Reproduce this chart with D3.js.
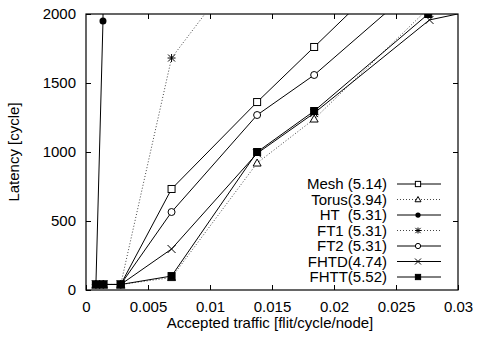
<!DOCTYPE html>
<html>
<head>
<meta charset="utf-8">
<script src="https://cdn.jsdelivr.net/npm/d3@7"></script>
<style>
  body { margin: 0; background: #fff; }
  text { font-family: "Liberation Sans", Arial, sans-serif; font-size: 15px; fill: #000; }
  .legend text { white-space: pre; }
</style>
</head>
<body>
<div id="chart"></div>
<script>
var width = 477;
var height = 339;
var margin = {top: 14, right: 19, bottom: 49, left: 86};

// accepted traffic values
var traffic = [0.0008, 0.0014, 0.0028, 0.0069, 0.0138, 0.0184, 0.0276];

// latency values per series
var meshY  = [40, 40, 40, 732, 1362, 1761, 2560];
var torusY = [40, 40, 40, 90, 920, 1239, 2040];
var htX    = [0.0008, 0.00137, 0.0014];
var htY    = [40, 1950, 2600];
var ft1X   = [0.0008, 0.0014, 0.0028, 0.0069, 0.0138];
var ft1Y   = [40, 40, 40, 1681, 2500];
var ft2Y   = [40, 40, 40, 565, 1268, 1558, 2275];
var fhtdX  = [0.0008, 0.0014, 0.0028, 0.0069, 0.0138, 0.0184, 0.0277, 0.0305];
var fhtdY  = [40, 40, 40, 297, 990, 1282, 1957, 2010];
var fhttY  = [40, 40, 40, 101, 1000, 1297, 2000];

var yTicks = [0, 500, 1000, 1500, 2000];
var xTicks = [0, 0.005, 0.01, 0.015, 0.02, 0.025, 0.03];

function zip(xs, ys) { return xs.map(function(x, i) { return [x, ys[i]]; }); }

var series = [
  {label: "Mesh (5.14)",  pts: zip(traffic, meshY),  marker: "square",  dotted: false},
  {label: "Torus(3.94)",  pts: zip(traffic, torusY), marker: "triangle", dotted: true},
  {label: "HT  (5.31)",   pts: zip(htX, htY),        marker: "dot",     dotted: false},
  {label: "FT1 (5.31)",   pts: zip(ft1X, ft1Y),      marker: "star",    dotted: true},
  {label: "FT2 (5.31)",   pts: zip(traffic, ft2Y),   marker: "circle",  dotted: false},
  {label: "FHTD(4.74)",   pts: zip(fhtdX, fhtdY),    marker: "cross",   dotted: false},
  {label: "FHTT(5.52)",   pts: zip(traffic, fhttY),  marker: "fsquare", dotted: false}
];

var w = width - margin.left - margin.right;
var h = height - margin.top - margin.bottom;

var svg = d3.select("#chart").append("svg")
    .attr("width", width)
    .attr("height", height);

var g = svg.append("g")
    .attr("transform", "translate(" + margin.left + "," + margin.top + ")");

var x = d3.scaleLinear().domain([0, 0.03]).range([0, w]);
var y = d3.scaleLinear().domain([0, 2000]).range([h, 0]);

g.append("clipPath").attr("id", "plotclip")
  .append("rect").attr("x", 0).attr("y", 0).attr("width", w).attr("height", h);

// axes with inward ticks, mirrored on top and right
var fmt = function(d) { return String(+d.toFixed(4)); };
g.append("g").attr("transform", "translate(0," + h + ")")
    .call(d3.axisBottom(x).tickValues(xTicks).tickSize(-5).tickPadding(11).tickFormat(fmt));
g.append("g")
    .call(d3.axisLeft(y).tickValues(yTicks).tickSize(-5).tickPadding(10).tickFormat(d3.format("d")));
g.append("g").call(d3.axisTop(x).tickValues(xTicks.slice(1, -1)).tickSize(-5).tickFormat(""));
g.append("g").attr("transform", "translate(" + w + ",0)")
  .call(d3.axisRight(y).tickValues(yTicks.slice(1, -1)).tickSize(-5).tickFormat(""));

g.selectAll(".domain").remove();
g.selectAll(".tick line").attr("stroke", "#000");
g.selectAll(".tick text").style("font-size", "15px").attr("fill", "#000");

g.append("rect")
    .attr("width", w).attr("height", h)
    .attr("fill", "none").attr("stroke", "#000").attr("stroke-width", 1.2);

// axis labels
svg.append("text")
    .attr("x", margin.left + w / 2 - 2)
    .attr("y", 328)
    .attr("text-anchor", "middle")
    .text("Accepted traffic [flit/cycle/node]");
svg.append("text")
    .attr("transform", "translate(19," + (margin.top + h / 2) + ") rotate(-90)")
    .attr("text-anchor", "middle")
    .text("Latency [cycle]");

// marker drawing
function drawMarker(sel, type, s) {
  s = s || 1;
  if (type === "square" || type === "fsquare") {
    sel.append("rect").attr("x", -3.5 * s).attr("y", -3.5 * s).attr("width", 7 * s).attr("height", 7 * s)
      .attr("fill", type === "fsquare" ? "#000" : "#fff").attr("stroke", "#000");
  } else if (type === "triangle") {
    sel.append("path").attr("d", "M0," + (-4 * s) + "L" + (4 * s) + "," + (3 * s) + "L" + (-4 * s) + "," + (3 * s) + "Z")
      .attr("fill", "#fff").attr("stroke", "#000");
  } else if (type === "dot") {
    sel.append("circle").attr("r", 3.5 * s).attr("fill", "#000");
  } else if (type === "circle") {
    sel.append("circle").attr("r", 3.5 * s).attr("fill", "#fff").attr("stroke", "#000");
  } else if (type === "cross") {
    var a = 4 * s;
    sel.append("path").attr("d", "M" + -a + "," + -a + "L" + a + "," + a + "M" + -a + "," + a + "L" + a + "," + -a).attr("stroke", "#000");
  } else if (type === "star") {
    var b = 3.5 * s, c = 4 * s;
    sel.append("path").attr("d", "M" + -b + "," + -b + "L" + b + "," + b + "M" + -b + "," + b + "L" + b + "," + -b +
      "M0," + -c + "L0," + c + "M" + -c + ",0L" + c + ",0").attr("stroke", "#000");
  }
}

var line = d3.line().x(function(d) { return x(d[0]); }).y(function(d) { return y(d[1]); });

var plot = g.append("g").attr("clip-path", "url(#plotclip)");

series.forEach(function(s) {
  plot.append("path")
      .datum(s.pts)
      .attr("d", line)
      .attr("fill", "none")
      .attr("stroke", s.dotted ? "#444" : "#000")
      .attr("stroke-width", 1)
      .attr("stroke-dasharray", s.dotted ? "1,2" : null);
});
series.forEach(function(s) {
  plot.selectAll(null)
      .data(s.pts)
      .enter().append("g")
      .attr("transform", function(d) { return "translate(" + x(d[0]) + "," + y(d[1]) + ")"; })
      .each(function() { drawMarker(d3.select(this), s.marker); });
});

// legend
var legend = g.selectAll(".legend")
    .data(series)
    .enter().append("g")
    .attr("class", "legend")
    .attr("transform", function(d, i) { return "translate(0," + (170 + i * 15.5) + ")"; });

legend.append("text")
    .attr("x", 301)
    .attr("dy", "0.35em")
    .attr("text-anchor", "end")
    .text(function(d) { return d.label; });

legend.append("line")
    .attr("x1", 311).attr("x2", 355)
    .attr("stroke", function(d) { return d.dotted ? "#444" : "#000"; })
    .attr("stroke-dasharray", function(d) { return d.dotted ? "1,2" : null; });

legend.append("g")
    .attr("transform", "translate(332,0)")
    .each(function(d) { drawMarker(d3.select(this), d.marker, 0.75); });
</script>
</body>
</html>
